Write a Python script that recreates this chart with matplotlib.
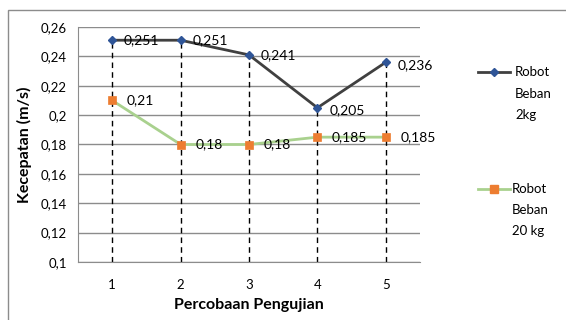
import numpy as np
import matplotlib.pyplot as plt
from matplotlib.lines import Line2D
from matplotlib.patches import Rectangle
from matplotlib.ticker import FuncFormatter

plt.rcParams['font.family'] = ['Lato', 'DejaVu Sans']

percobaan = [1, 2, 3, 4, 5]
beban_2kg = [0.251, 0.251, 0.241, 0.205, 0.236]
beban_20kg = [0.21, 0.18, 0.18, 0.185, 0.185]
label_2kg = ['0,251', '0,251', '0,241', '0,205', '0,236']
label_20kg = ['0,21', '0,18', '0,18', '0,185', '0,185']

W, H = 566, 320
fig = plt.figure(figsize=(W / 100, H / 100), dpi=100)
ax = fig.add_axes([78 / W, 1 - 262 / H, (420 - 78) / W, (262 - 27) / H])

# garis vertikal putus-putus
for x, a, b in zip(percobaan, beban_2kg, beban_20kg):
    ax.plot([x, x], [0.1, max(a, b)], color='black', linestyle=(0, (4, 3)), linewidth=1, zorder=2)

ax.plot(percobaan, beban_2kg, color='#404040', linewidth=2, marker='D', markersize=4.5,
        markerfacecolor='#2F5597', markeredgecolor='#2F5597', zorder=4)
ax.plot(percobaan, beban_20kg, color='#A9D18E', linewidth=2, marker='s', markersize=5.5,
        markerfacecolor='#ED7D31', markeredgecolor='#ED7D31', markeredgewidth=0.5, zorder=4)

for x, y, t in zip(percobaan, beban_2kg, label_2kg):
    dy = -2 if x in (4, 5) else 0
    ax.annotate(t, (x, y), xytext=(8.5, dy), textcoords='offset points', va='center', fontsize=10, zorder=5)
for x, y, t in zip(percobaan, beban_20kg, label_20kg):
    ax.annotate(t, (x, y), xytext=(10.5, 0), textcoords='offset points', va='center', fontsize=10, zorder=5)

ax.set_xlim(0.5, 5.5)
ax.set_ylim(0.1, 0.26)
ax.set_yticks(np.arange(0.1, 0.2601, 0.02))
ax.set_xticks(percobaan)
ax.yaxis.set_major_formatter(FuncFormatter(lambda v, p: ('%g' % round(v, 2)).replace('.', ',')))
ax.grid(axis='y', color='#8C8C8C', linewidth=1)
ax.set_axisbelow(True)
for s in ['top', 'right']:
    ax.spines[s].set_visible(False)
ax.spines['left'].set_color('#8C8C8C')
ax.spines['bottom'].set_color('#8C8C8C')
ax.tick_params(axis='both', length=0, labelsize=9.5)
ax.tick_params(axis='x', pad=12)
ax.tick_params(axis='y', pad=8)
ax.set_xlabel('Percobaan Pengujian', fontsize=11.5, fontweight='bold', labelpad=5)
ax.set_ylabel('Kecepatan (m/s)', fontsize=11.5, fontweight='bold', labelpad=6)

# legenda manual
fig.add_artist(Line2D([478 / W, 510 / W], [1 - 72 / H] * 2, color='#404040', linewidth=2))
fig.add_artist(Line2D([494 / W], [1 - 72 / H], marker='D', markersize=4.5, color='#2F5597'))
fig.text(515 / W, 1 - 72 / H, 'Robot', fontsize=9.5, va='center')
fig.text(515 / W, 1 - 94 / H, 'Beban', fontsize=9.5, va='center')
fig.text(515 / W, 1 - 115 / H, '2kg', fontsize=9.5, va='center')

fig.add_artist(Line2D([478 / W, 510 / W], [1 - 189 / H] * 2, color='#A9D18E', linewidth=2))
fig.add_artist(Line2D([494 / W], [1 - 189 / H], marker='s', markersize=5.5, color='#ED7D31'))
fig.text(512 / W, 1 - 189 / H, 'Robot', fontsize=9.5, va='center')
fig.text(512 / W, 1 - 210 / H, 'Beban', fontsize=9.5, va='center')
fig.text(512 / W, 1 - 231 / H, '20 kg', fontsize=9.5, va='center')

# bingkai luar
fig.add_artist(Rectangle((8 / W, -0.05), 1.0, 1 - 10 / H + 0.05, transform=fig.transFigure,
                         fill=False, edgecolor='#8C8C8C', linewidth=1))

fig.savefig('out.png', dpi=100)
